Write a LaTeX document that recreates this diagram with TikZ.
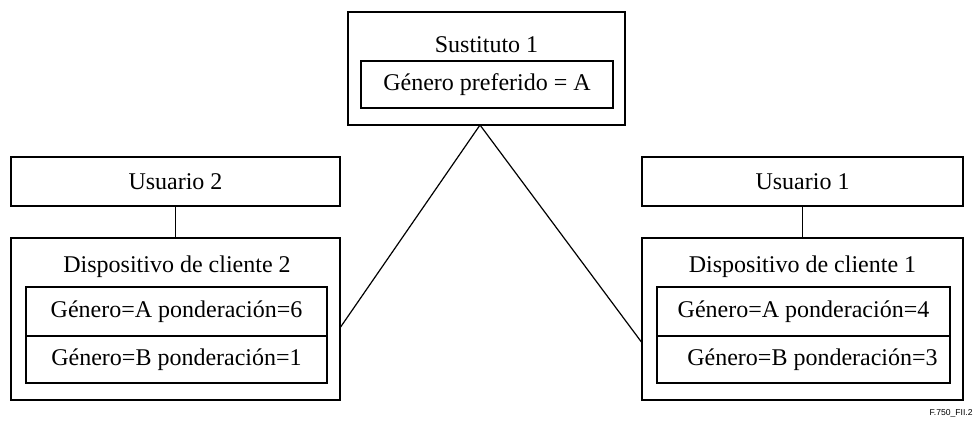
\documentclass[tikz,border=0pt]{standalone}
\usepackage{fontspec}
\setmainfont{Liberation Serif}
\newfontfamily\figfont{Liberation Sans}
\begin{document}
\begin{tikzpicture}[x=0.5pt,y=-0.5pt,
        box/.style={draw,line width=0.6pt,rectangle,inner sep=0pt},
        txt/.style={inner sep=0pt,font=\fontsize{12}{14}\selectfont}]
        \useasboundingbox (0,0) rectangle (977,430);
        %% Sustituto
        \node[box,minimum width=138.5pt,minimum height=56.5pt] (sust) at (486.5,68.5) {};
        \node[txt] (sustname) at (486.5,45) {Sustituto 1};
        \node[box,txt,minimum width=126pt,minimum height=23.5pt] (pref) at (487,84.5) {Género preferido = A};
        \coordinate (apex) at (480,125);
        %% Usuario 2
        \node[box,txt,minimum width=164.5pt,minimum height=24.5pt] (user2) at (175.5,181.5) {Usuario 2};
        \node[box,minimum width=164.5pt,minimum height=81pt] (dev2) at (175.5,319) {};
        \node[txt] (dev2name) at (177,267) {Dispositivo de cliente 2};
        \node[box,txt,minimum width=150.5pt,minimum height=24.5pt] (dev2a) at (176.5,311.5) {Género=A ponderación=6};
        \node[box,txt,minimum width=150.5pt,minimum height=23.5pt] (dev2b) at (176.5,359.5) {Género=B ponderación=1};
        \draw[line width=0.6pt] (user2) -- (dev2);
        %% Usuario 1
        \node[box,txt,minimum width=160.5pt,minimum height=24.5pt] (user1) at (802.5,181.5) {Usuario 1};
        \node[box,minimum width=160.5pt,minimum height=81pt] (dev1) at (802.5,319) {};
        \node[txt] (dev1name) at (802.5,267) {Dispositivo de cliente 1};
        \node[box,txt,minimum width=146.5pt,minimum height=24.5pt] (dev1a) at (803.5,311.5) {Género=A ponderación=4};
        \node[box,txt,minimum width=146.5pt,minimum height=23.5pt] (dev1b) at (803.5,359.5) {\hspace*{9pt}Género=B ponderación=3};
        \draw[line width=0.6pt] (user1) -- (dev1);
        %% Links
        \draw[line width=0.6pt] (apex) -- ([yshift=-4pt]dev2.east);
        \draw[line width=0.6pt] (apex) -- ([yshift=-11.5pt]dev1.west);
        \node[anchor=east,inner sep=0pt,font=\figfont\fontsize{4.3}{5}\selectfont] (figid) at (973,413) {F.750\_FII.2};
\end{tikzpicture}
\end{document}
